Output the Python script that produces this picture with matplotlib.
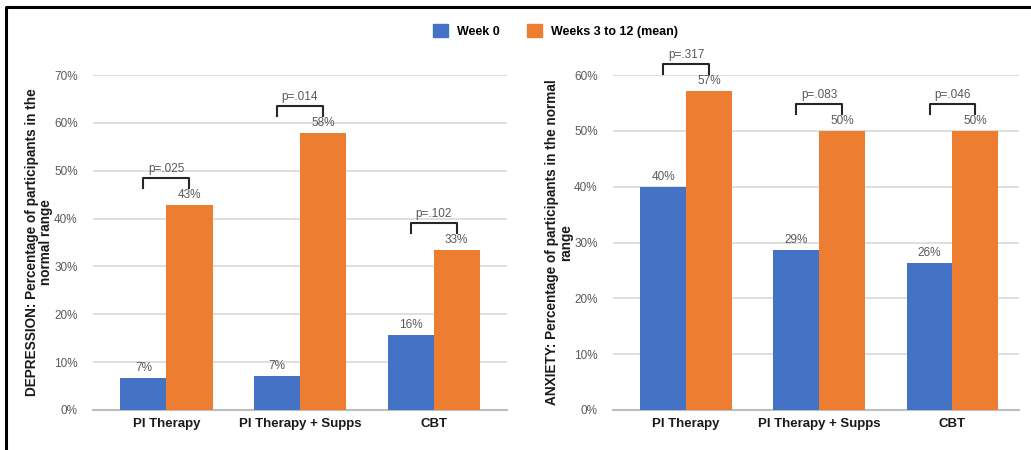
import matplotlib
matplotlib.use("Agg")
import matplotlib.pyplot as plt
from matplotlib.lines import Line2D
from matplotlib.patches import Patch
import numpy as np

plt.rcParams['font.family'] = ['Liberation Sans', 'DejaVu Sans']

# data
groups = ["PI Therapy", "PI Therapy + Supps", "CBT"]
series_names = ["Week 0", "Weeks 3 to 12 (mean)"]

dep_week0 = [6.7, 7.1, 15.7]
dep_week312 = [42.8, 57.8, 33.4]
dep_labels0 = ["7%", "7%", "16%"]
dep_labels312 = ["43%", "58%", "33%"]
dep_pvals = ["p=.025", "p=.014", "p=.102"]

anx_week0 = [40.0, 28.6, 26.3]
anx_week312 = [57.1, 50.0, 50.0]
anx_labels0 = ["40%", "29%", "26%"]
anx_labels312 = ["57%", "50%", "50%"]
anx_pvals = ["p=.317", "p=.083", "p=.046"]

BLUE = "#4472C4"
ORANGE = "#ED7D31"
GRID = "#d9d9d9"
TXT = "#595959"


def draw_panel(ax, w0, w1, lab0, lab1, pvals, ymax, ylabel, xlim, px_per_unit):
    x = np.arange(len(groups))
    bw = 0.345
    ax.bar(x - bw / 2, w0, bw, color=BLUE, zorder=3)
    ax.bar(x + bw / 2, w1, bw, color=ORANGE, zorder=3)
    ax.set_ylim(0, ymax)
    ax.set_xlim(*xlim)
    ax.set_yticks(np.arange(0, ymax + 1, 10))
    ax.set_yticklabels([f"{v}%" for v in range(0, ymax + 1, 10)])
    ax.yaxis.grid(True, color=GRID, lw=1.2, zorder=0)
    ax.set_axisbelow(True)
    for s in ["top", "right", "left"]:
        ax.spines[s].set_visible(False)
    ax.spines["bottom"].set_color("#bfbfbf")
    ax.spines["bottom"].set_linewidth(1.5)
    ax.tick_params(axis="y", length=0, pad=11, labelsize=8.5, labelcolor=TXT)
    ax.tick_params(axis="x", length=0, pad=6)
    ax.set_xticks(x)
    ax.set_xticklabels(groups, fontsize=9.5, fontweight="bold", color="#1a1a1a")
    ax.set_ylabel(ylabel, fontsize=9.8, fontweight="bold", color="#1a1a1a",
                  linespacing=1.0, labelpad=1)

    off = 4 / px_per_unit
    for i in range(len(groups)):
        ax.text(x[i] - bw / 2, w0[i] + off, lab0[i], ha="center", va="bottom",
                fontsize=8.5, color=TXT)
        ax.text(x[i] + bw / 2, w1[i] + off, lab1[i], ha="center", va="bottom",
                fontsize=8.5, color=TXT)
        top = w1[i] + 27 / px_per_unit
        drop = 10 / px_per_unit
        ax.plot([x[i] - bw / 2, x[i] - bw / 2, x[i] + bw / 2, x[i] + bw / 2],
                [top - drop, top, top, top - drop], color="#262626", lw=1.5,
                clip_on=False, zorder=4)
        ax.text(x[i], top + 3 / px_per_unit, pvals[i], ha="center", va="bottom",
                fontsize=8.5, color=TXT)


fig = plt.figure(figsize=(10.31, 4.5), dpi=100)

ax1 = fig.add_axes([0.0902, 0.0889, 0.4016, 0.7444])
draw_panel(ax1, dep_week0, dep_week312, dep_labels0, dep_labels312, dep_pvals, 70,
           "DEPRESSION: Percentage of participants in the\nnormal range",
           (-0.55, 2.55), 335 / 70)

ax2 = fig.add_axes([0.5946, 0.0889, 0.3938, 0.7444])
draw_panel(ax2, anx_week0, anx_week312, anx_labels0, anx_labels312, anx_pvals, 60,
           "ANXIETY: Percentage of participants in the normal\nrange",
           (-0.55, 2.5), 335 / 60)

handles = [Patch(color=BLUE), Patch(color=ORANGE)]
leg = fig.legend(handles, series_names, loc="center", bbox_to_anchor=(0.539, 0.931),
                 ncol=2, frameon=False, handlelength=1.2, handleheight=1.2,
                 columnspacing=2.2, handletextpad=0.7,
                 prop={"size": 9, "weight": "bold"})

# outer frame (top and left edges)
fig.add_artist(Line2D([6 / 1031, 6 / 1031, 1.0], [0.0, 1 - 7 / 450, 1 - 7 / 450],
                      transform=fig.transFigure, color="black", lw=2.2))

fig.savefig("out.png", dpi=100)
